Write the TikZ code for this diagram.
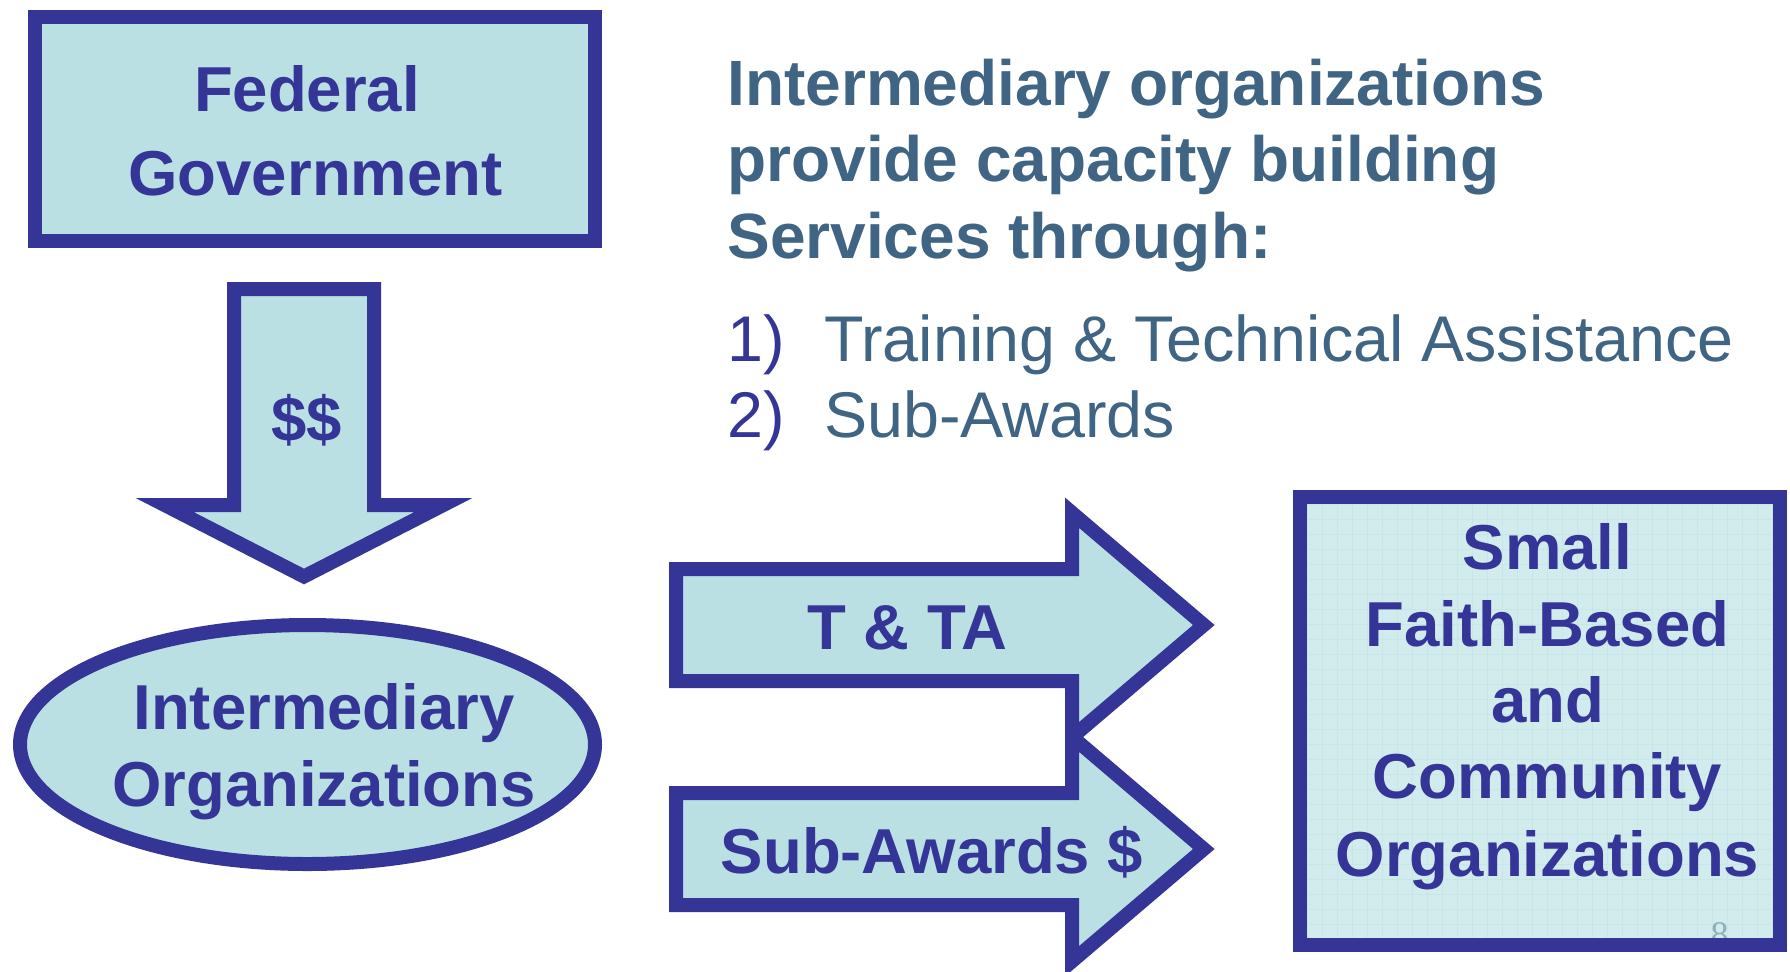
\documentclass[tikz,border=0pt]{standalone}
\usepackage{fontspec}
\setmainfont{Liberation Sans}
\newfontfamily\pgnumfont{Liberation Serif}
\definecolor{bord}{HTML}{353598}
\definecolor{lfill}{HTML}{BAE0E3}
\definecolor{rfill}{HTML}{D2EBED}
\definecolor{rgrid}{HTML}{C8E5E8}
\definecolor{steel}{HTML}{3F6484}
\definecolor{pgnum}{HTML}{8FB0B8}
\tikzset{
  shapeline/.style={draw=bord, fill=lfill, line width=7pt, line join=miter, miter limit=10},
  btxt/.style={inner sep=0pt, anchor=base, text=bord, font=\fontsize{31.75}{38}\selectfont\bfseries},
  ttl/.style={inner sep=0pt, anchor=base west, text=steel, font=\fontsize{32}{38}\selectfont\bfseries},
  lst/.style={inner sep=0pt, anchor=base west, text=steel, font=\fontsize{32.3}{38}\selectfont},
  lnum/.style={inner sep=0pt, anchor=base west, text=bord, font=\fontsize{32.3}{38}\selectfont},
}
\begin{document}
\begin{tikzpicture}[x=0.5pt,y=-0.5pt]
\useasboundingbox (0,0) rectangle (1790,971);
\fill[white] (0,0) rectangle (1790,971);

% Federal Government box
\draw[shapeline] (35,17) rectangle (595,241);
\node[btxt] (fed1) at (307,111) {Federal};
\node[btxt] (fed2) at (315.5,195) {Government};

% Down arrow
\draw[shapeline] (234,289) -- (374,289) -- (374,505) -- (443.4,505) -- (304,576.5)
  -- (164.6,505) -- (234,505) -- cycle;
\node[btxt] (dollars) at (307,441) {\$\$};

% Ellipse
\draw[shapeline] (307.5,744.5) ellipse [x radius=143.75pt, y radius=59.75pt];
\node[btxt] (int1) at (324,729) {Intermediary};
\node[btxt] (int2) at (324,806) {Organizations};

% Title text
\node[ttl] (t1) at (727,105) {Intermediary organizations};
\node[ttl] (t2) at (727,181.5) {provide capacity building};
\node[ttl] (t3) at (727,258) {Services through:};

% List
\node[lnum] (n1) at (727,361) {1)};
\node[lst] (l1) at (824,361) {Training \& Technical Assistance};
\node[lnum] (n2) at (727,437) {2)};
\node[lst] (l2) at (824,437) {Sub-Awards};

% Right arrows
\draw[shapeline] (676,569) -- (1072,569) -- (1072,512.7) -- (1203.8,625) -- (1072,737.3)
  -- (1072,681) -- (676,681) -- cycle;
\draw[shapeline] (676,793) -- (1072,793) -- (1072,736.7) -- (1203.8,849) -- (1072,961.3)
  -- (1072,905) -- (676,905) -- cycle;
\node[btxt] (tta) at (907.5,649) {T \& TA};
\node[btxt] (sub) at (932,873) {Sub-Awards \$};

% Right box
\fill[rfill] (1300,497) rectangle (1780,945);
\foreach \gx in {1307,1322,...,1775} { \draw[rgrid, line width=0.4pt] (\gx,497) -- (\gx,945); }
\foreach \gy in {504,519,...,940} { \draw[rgrid, line width=0.4pt] (1300,\gy) -- (1780,\gy); }
\node[inner sep=0pt, anchor=base, text=pgnum, font=\fontsize{18}{20}\selectfont\pgnumfont] (pg) at (1719.5,946) {8};
\draw[draw=bord, line width=7pt, line join=miter] (1300,497) rectangle (1780,945);
\node[btxt] (s1) at (1547.5,569) {Small};
\node[btxt] (s2) at (1547.5,646) {Faith-Based};
\node[btxt] (s3) at (1547.5,722) {and};
\node[btxt] (s4) at (1547.5,798) {Community};
\node[btxt] (s5) at (1547.5,876) {Organizations};
\end{tikzpicture}
\end{document}
